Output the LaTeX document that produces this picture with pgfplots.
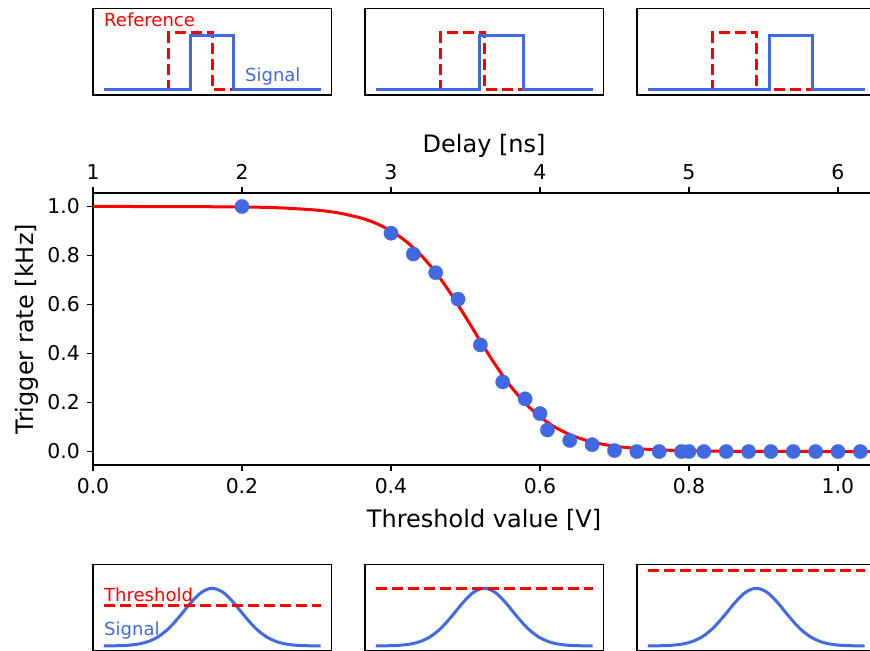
\documentclass[border=0pt]{standalone}
\usepackage{pgfplots}
\pgfplotsset{compat=1.18}
\usepackage{fontspec}
\setmainfont{DejaVu Sans}
\definecolor{sigblue}{RGB}{65,105,225}
\definecolor{refred}{RGB}{255,0,0}
\pgfplotsset{
  inset/.style={scale only axis, width=119.25pt, xtick=\empty, ytick=\empty,
    xmin=-0.5, xmax=10.5, axis line style={line width=0.75pt}, clip=false, anchor=south west},
  topinset/.style={inset, height=43.35pt, ymin=-0.1, ymax=1.5},
  botinset/.style={inset, height=43.4pt, ymin=-0.09, ymax=1.415},
}
\tikzset{
  refline/.style={refred, line width=1.5pt, dash pattern=on 5.5pt off 2.5pt},
  sigline/.style={sigblue, line width=1.5pt},
  insettext/.style={font=\fontsize{9}{10}\selectfont, inner sep=0pt, anchor=west},
}
\pgfplotstableread{
t y
0 0.0006
0.5 0.0025
1 0.0088
1.5 0.0267
2 0.070
2.5 0.157
3 0.306
3.5 0.514
4 0.744
4.5 0.929
5 1.0
5.5 0.929
6 0.744
6.5 0.514
7 0.306
7.5 0.157
8 0.070
8.5 0.0267
9 0.0088
9.5 0.0025
10 0.0006
}\gauss
\begin{document}
\begin{tikzpicture}
\path[use as bounding box] (0,0) rectangle (435pt,325pt);
\clip (0,0) rectangle (435pt,325pt);

% main axis
\begin{axis}[
  at={(46.5pt,92.5pt)}, anchor=south west, scale only axis,
  width=391.1pt, height=136pt,
  xmin=0, xmax=1.05, ymin=-0.055, ymax=1.055,
  xtick={0,0.2,0.4,0.6,0.8,1.0},
  ytick={0,0.2,0.4,0.6,0.8,1.0},
  xtick pos=bottom, ytick pos=left,
  tick align=outside, major tick length=3pt,
  tick style={black, line width=0.6pt},
  axis line style={line width=0.6pt},
  /pgf/number format/assume math mode=true,
  /pgf/number format/.cd, fixed, fixed zerofill, precision=1, /pgfplots/.cd,
  tick label style={font=\fontsize{10.2}{12}\selectfont},
  label style={font=\fontsize{12}{14}\selectfont},
  xlabel={Threshold value [V]},
  ylabel={Trigger rate [kHz]},
  ylabel style={yshift=-2.5pt},
  xlabel style={yshift=-1pt},
]
\addplot[refred, line width=1.5pt, smooth] coordinates {
(0,1.0) (0.1,0.9997) (0.2,0.998) (0.25,0.9945) (0.3,0.9852) (0.33,0.9734)
(0.36,0.9526) (0.38,0.9309) (0.40,0.9002) (0.42,0.8581) (0.44,0.8022)
(0.46,0.7311) (0.48,0.6457) (0.50,0.5498) (0.52,0.4502) (0.54,0.3543)
(0.56,0.2689) (0.58,0.1978) (0.60,0.1419) (0.62,0.0998) (0.64,0.0691)
(0.66,0.0474) (0.68,0.0323) (0.70,0.0219) (0.73,0.0121) (0.76,0.0067)
(0.80,0.0030) (0.85,0.0011) (0.90,0.0004) (1.0,0.0001) (1.1,0.0)
};
\addplot[only marks, mark=*, color=sigblue, mark size=3.6pt, mark options={fill=sigblue, draw=sigblue, line width=0.1pt}] coordinates {
(0.2,1.0) (0.4,0.891) (0.43,0.806) (0.46,0.73) (0.49,0.622) (0.52,0.435)
(0.55,0.284) (0.58,0.215) (0.60,0.155) (0.61,0.088) (0.64,0.045) (0.67,0.028)
(0.70,0.004) (0.73,0.0) (0.76,0.0) (0.79,0.0) (0.80,0.0) (0.82,0.0) (0.85,0.0)
(0.88,0.0) (0.91,0.0) (0.94,0.0) (0.97,0.0) (1.00,0.0) (1.03,0.0)
};
\end{axis}

% top (delay) axis
\begin{axis}[
  at={(46.5pt,92.5pt)}, anchor=south west, scale only axis,
  width=391.1pt, height=136pt,
  xmin=1, xmax=6.25, ymin=0, ymax=1,
  axis x line*=top, axis y line=none,
  xtick={1,2,3,4,5,6},
  tick align=outside, major tick length=3pt,
  tick style={black, line width=0.6pt},
  axis line style={line width=0.6pt},
  /pgf/number format/assume math mode=true,
  tick label style={font=\fontsize{10.2}{12}\selectfont},
  label style={font=\fontsize{12}{14}\selectfont},
  xlabel={Delay [ns]},
  xlabel style={yshift=-3.5pt},
]
\addplot[draw=none] coordinates {(1,0.5)};
\end{axis}

% top insets
\begin{axis}[topinset, at={(46.5pt,277.5pt)}]
\addplot[refline] coordinates {(0,0) (3,0) (3,1.05) (5,1.05) (5,0) (10,0)};
\addplot[sigline] coordinates {(0,0) (4,0) (4,1) (6,1) (6,0) (10,0)};
\node[insettext, text=refred] at (axis cs:0,1.28) {Reference};
\node[insettext, text=sigblue] at (axis cs:6.5,0.25) {Signal};
\end{axis}
\begin{axis}[topinset, at={(182.5pt,277.5pt)}]
\addplot[refline] coordinates {(0,0) (3,0) (3,1.05) (5,1.05) (5,0) (10,0)};
\addplot[sigline] coordinates {(0,0) (4.8,0) (4.8,1) (6.8,1) (6.8,0) (10,0)};
\end{axis}
\begin{axis}[topinset, at={(318.5pt,277.5pt)}]
\addplot[refline] coordinates {(0,0) (3,0) (3,1.05) (5,1.05) (5,0) (10,0)};
\addplot[sigline] coordinates {(0,0) (5.6,0) (5.6,1) (7.6,1) (7.6,0) (10,0)};
\end{axis}

% bottom insets
\begin{axis}[botinset, at={(46.5pt,-0.55pt)}]
\addplot[sigline, smooth] table[x=t, y=y] {\gauss};
\addplot[refline] coordinates {(0,0.7) (10,0.7)};
\node[insettext, text=refred] at (axis cs:0,0.88) {Threshold};
\node[insettext, text=sigblue] at (axis cs:0,0.26) {Signal};
\end{axis}
\begin{axis}[botinset, at={(182.5pt,-0.55pt)}]
\addplot[sigline, smooth] table[x=t, y=y] {\gauss};
\addplot[refline] coordinates {(0,1.0) (10,1.0)};
\end{axis}
\begin{axis}[botinset, at={(318.5pt,-0.55pt)}]
\addplot[sigline, smooth] table[x=t, y=y] {\gauss};
\addplot[refline] coordinates {(0,1.3) (10,1.3)};
\end{axis}
\end{tikzpicture}
\end{document}
